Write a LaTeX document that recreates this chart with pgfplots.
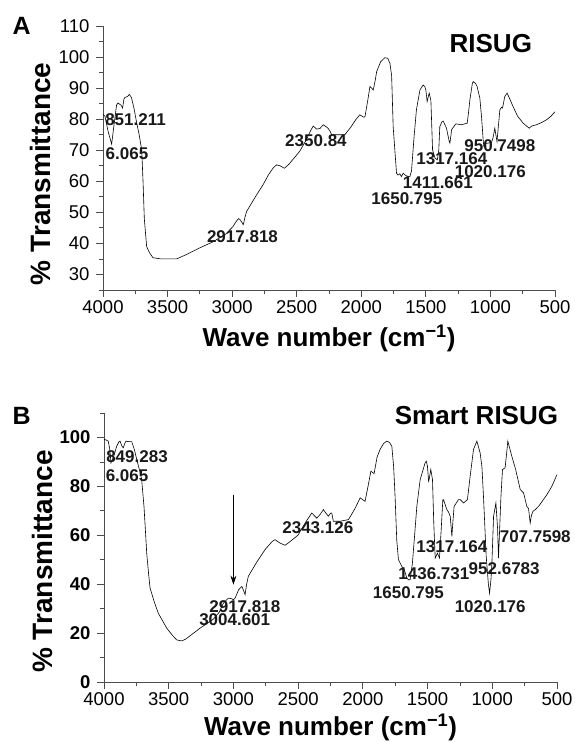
\documentclass[border=0pt]{standalone}
\usepackage{pgfplots}
\pgfplotsset{compat=1.18}
\usepackage{fontspec}
\setmainfont{Liberation Sans}
\usetikzlibrary{arrows.meta}

% FTIR spectra
\pgfplotstableread{
x y
4000 81.5
3985 81
3960 76
3933 72
3915 78
3895 84.5
3884 85.2
3860 84.5
3848 83.6
3838 86.5
3830 87
3810 87.3
3796 88
3780 87
3760 83.5
3739 78.8
3720 75
3700 70
3690 60
3680 48
3662 39
3640 37
3613 35.4
3550 35
3430 35
3350 36.5
3249 38.6
3149 40.5
3050 43
2994 45.4
2970 47
2950 48
2935 47.5
2914 46
2900 48.5
2888 50.3
2820 55
2759 59
2720 62
2682 64.3
2656 65.3
2630 65
2595 64.2
2560 65.5
2530 67
2478 69.6
2430 73
2390 76.5
2372 77.8
2346 76.8
2320 77
2295 78.2
2270 77.5
2256 77
2240 76
2230 75
2180 75
2127 75
2080 77.5
2040 80
2011 81.4
1985 80.7
1972 80.7
1950 86
1933 90.5
1920 90
1907 89.4
1890 93
1881 95.3
1850 98.5
1817 99.8
1795 99.6
1778 98
1765 94
1753 77.6
1740 70
1727 62.6
1715 62
1701 62.4
1690 61.5
1676 62.6
1660 62
1637 61.5
1624 61.5
1611 63.4
1590 75
1573 83
1546 89.4
1521 91
1508 90.5
1500 89.4
1490 85.7
1474 88.4
1461 86
1448 70.1
1430 67.5
1411 66.9
1400 70
1392 77.6
1375 79.2
1366 79.4
1350 78
1340 77.1
1320 73
1314 72.3
1305 75
1301 76.6
1268 78.5
1224 78.2
1180 78.7
1170 82
1159 86.2
1140 91.5
1133 92.1
1115 91.5
1103 90.5
1082 86.8
1069 80.8
1056 73.3
1051 71.2
1035 72.2
1018 72.3
992 72.5
980 74
966 77.1
958 75
949 72.8
940 77
927 83
915 83.8
906 83.6
889 87.3
871 88.4
850 86.5
824 84
790 81
746 78.7
720 77.8
700 77.1
680 77.8
643 78.2
600 79
566 79.8
530 81
500 82.4
}\risug

\pgfplotstableread{
x y
4000 99.2
3985 99
3967 98.5
3955 95
3946 89.6
3935 91
3928 91.7
3910 95
3902 96.4
3885 98.2
3876 98.5
3862 96.5
3851 95.8
3840 97.5
3830 98.5
3810 98.3
3786 98.3
3765 95
3747 91
3725 86.5
3709 82.8
3691 71.8
3680 62
3670 52.7
3655 44
3644 38.4
3610 32.5
3580 28.1
3515 22
3470 19
3438 17.2
3399 16.8
3370 17.5
3335 18.9
3258 22
3155 25.7
3110 28.5
3078 32.2
3039 34.3
3010 34
3000 33.6
2987 34.3
2960 37.7
2935 39.1
2922 37.5
2910 35.7
2898 40
2885 43.2
2820 49
2756 54.1
2700 57.5
2678 58.2
2640 56.8
2601 55.9
2560 57.5
2498 60.2
2485 61.6
2440 65.5
2395 69.1
2356 67
2330 68.5
2305 70.5
2285 69
2266 67.8
2250 69
2240 69.1
2228 65.7
2170 65.8
2111 66.4
2060 71
2021 75.3
1983 73.9
1960 80
1938 86.2
1913 85.2
1890 92
1867 95.1
1840 97.5
1815 98.5
1795 98
1776 96.4
1762 88
1751 75.9
1738 58
1725 50
1699 47.3
1680 45.9
1660 42.5
1648 41.8
1635 41.8
1617 48.7
1600 60
1583 71.8
1557 82.8
1519 89.6
1510 90.3
1501 88.3
1492 82.1
1488 82.8
1475 86.9
1462 82.8
1452 65
1441 50.7
1424 52.7
1408 50.7
1395 62
1382 74.6
1377 74.6
1351 70.5
1338 69.5
1325 67.8
1312 59.6
1305 65
1295 71.8
1261 74.6
1248 74.6
1222 73.2
1192 74.6
1171 84.1
1145 95.1
1119 98.5
1094 93.7
1080 88
1068 75.9
1047 51.4
1030 40
1021 36.3
1010 42
1003 48.6
990 67.8
972 73.2
959 62.7
952 50.7
945 60
933 75.9
921 86.9
901 87.6
890 93
880 98.5
849 92.3
820 87
784 78.7
758 77.3
733 71.8
720 71
707 65
698 68
686 69.8
668 70.5
640 72
578 76.6
540 80
500 84.8
}\smart

\pgfplotsset{
  ir/.style={
    scale only axis,
    x dir=reverse,
    xmin=500, xmax=4000,
    xtick={500,1000,...,4000},
    minor xtick={750,1250,...,3750},
    axis x line*=bottom, axis y line*=left,
    tick align=outside,
    major tick length=7pt, minor tick length=4pt,
    axis line style={black!70, line width=0.8pt},
    every tick/.style={black!70, line width=0.8pt},
    tick label style={font=\fontsize{18.5}{18.5}\selectfont},
    yticklabel style={xshift=-3pt},
    /pgf/number format/assume math mode=true,
    /pgf/number format/1000 sep={},
    xlabel style={font=\bfseries\fontsize{26}{26}\selectfont},
    ylabel style={font=\bfseries\fontsize{28}{28}\selectfont},
    xlabel={Wave number (cm\textsuperscript{−1})},
    ylabel={\% Transmittance},
    clip=false,
  },
}
\tikzset{
  pk/.style={font=\bfseries\fontsize{17}{17}\selectfont, inner sep=0pt, text=black!90},
}

\begin{document}
\begin{tikzpicture}
\path[use as bounding box] (0,0) rectangle (574pt,742pt);

% panel A
\begin{axis}[ir,
  at={(103pt,452pt)}, anchor=south west,
  width=452pt, height=264pt,
  ymin=25, ymax=110,
  ytick={30,40,...,110},
  minor ytick={25,35,...,105},
  xlabel style={at={(axis description cs:0.5,-0.215)}, anchor=base},
  ylabel style={at={(axis description cs:-0.117,0.44)}, anchor=base},
]
\addplot[black, line width=0.6pt] table[x=x, y=y] {\risug};
\node[pk] at (axis cs:3748,80) {851.211};
\node[pk] at (axis cs:3814,68.8) {6.065};
\node[pk] at (axis cs:2920,42.3) {2917.818};
\node[pk] at (axis cs:2351,73) {2350.84};
\node[pk] at (axis cs:1647,54.4) {1650.795};
\node[pk] at (axis cs:1407,59.5) {1411.661};
\node[pk] at (axis cs:1299,67.2) {1317.164};
\node[pk] at (axis cs:1001,63.2) {1020.176};
\node[pk] at (axis cs:927,71.6) {950.7498};
\node[font=\bfseries\fontsize{26}{26}\selectfont, inner sep=0pt] at (axis cs:997,104.5) {RISUG};
\node[font=\bfseries\fontsize{25}{25}\selectfont, inner sep=0pt] at (axis description cs:-0.18,1.0) {A};
\end{axis}

% panel B
\begin{axis}[ir,
  at={(104pt,60pt)}, anchor=south west,
  width=453pt, height=269pt,
  ymin=0, ymax=110,
  ytick={0,20,...,100},
  minor ytick={10,30,...,110},
  yticklabel style={font=\bfseries\fontsize{18.5}{18.5}\selectfont},
  xlabel style={at={(axis description cs:0.5,-0.2)}, anchor=base},
  ylabel style={at={(axis description cs:-0.113,0.448)}, anchor=base},
]
\addplot[black, line width=0.6pt] table[x=x, y=y] {\smart};
\draw[-{Stealth[length=9pt,width=6pt]}, line width=0.7pt] (axis cs:3000,76.6) -- (axis cs:3000,39.8);
\node[pk] at (axis cs:3745,92) {849.283};
\node[pk] at (axis cs:3822,84.3) {6.065};
\node[pk] at (axis cs:2912,30.9) {2917.818};
\node[pk] at (axis cs:2990,25.4) {3004.601};
\node[pk] at (axis cs:2348,63.3) {2343.126};
\node[pk] at (axis cs:1312,55.5) {1317.164};
\node[pk] at (axis cs:668,59.5) {707.7598};
\node[pk] at (axis cs:1451,44.5) {1436.731};
\node[pk] at (axis cs:908,46.2) {952.6783};
\node[pk] at (axis cs:1648,36.4) {1650.795};
\node[pk] at (axis cs:1016,30.9) {1020.176};
\node[font=\bfseries\fontsize{26}{26}\selectfont, inner sep=0pt] at (axis cs:1122,109.1) {Smart RISUG};
\node[font=\bfseries\fontsize{25}{25}\selectfont, inner sep=0pt] at (axis description cs:-0.182,0.99) {B};
\end{axis}
\end{tikzpicture}
\end{document}
